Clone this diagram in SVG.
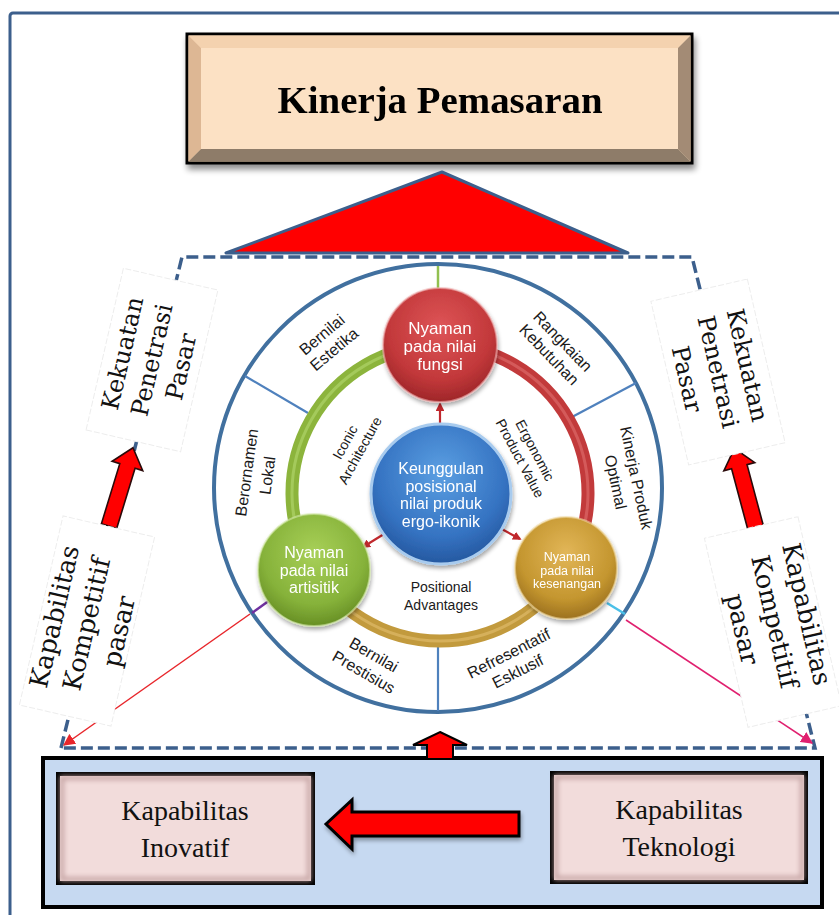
<svg xmlns="http://www.w3.org/2000/svg" width="839" height="915" viewBox="0 0 839 915">
  <style>
    .frame { fill: none; stroke: #3C5F8C; stroke-width: 3; }
    .dash { fill: none; stroke: #3C5F8C; stroke-width: 3.5; stroke-dasharray: 12 5; }
    .sidebox { fill: #FFFFFF; stroke: #EDEDED; stroke-width: 1; stroke-dasharray: 6 2; }
    .sidetxt { font-family: "DejaVu Serif", "Liberation Serif", serif; fill: #111111; text-anchor: middle; }
    .lbl { font-family: "Liberation Sans", Arial, sans-serif; font-size: 16px; fill: #1A1A1A; text-anchor: middle; }
    .lbl-in { font-family: "Liberation Sans", Arial, sans-serif; font-size: 14px; fill: #1A1A1A; text-anchor: middle; }
    .ntxt { font-family: "Liberation Sans", Arial, sans-serif; fill: #FFFFFF; text-anchor: middle; }
    .spoke { stroke: #4F81BD; stroke-width: 2.2; }
    .block { fill: #FF0000; stroke: #2A0A0A; stroke-width: 1.6; stroke-linejoin: miter; }
    .capbox { fill: #F2DCDB; stroke: #000000; stroke-width: 4; }
    .captxt { font-family: "Liberation Serif", "Times New Roman", serif; font-size: 28px; fill: #111111; text-anchor: middle; }
  </style>
  <defs>
    <filter id="shadow" x="-10%" y="-10%" width="125%" height="135%">
      <feGaussianBlur in="SourceAlpha" stdDeviation="3"/>
      <feOffset dx="2" dy="5" result="b"/>
      <feComponentTransfer><feFuncA type="linear" slope="0.45"/></feComponentTransfer>
      <feMerge><feMergeNode/><feMergeNode in="SourceGraphic"/></feMerge>
    </filter>
    <filter id="soft" x="-20%" y="-20%" width="140%" height="140%">
      <feGaussianBlur in="SourceAlpha" stdDeviation="2"/>
      <feOffset dx="1" dy="3"/>
      <feComponentTransfer><feFuncA type="linear" slope="0.35"/></feComponentTransfer>
      <feMerge><feMergeNode/><feMergeNode in="SourceGraphic"/></feMerge>
    </filter>
    <filter id="inner" x="-5%" y="-5%" width="110%" height="110%">
      <feGaussianBlur stdDeviation="2.5"/>
    </filter>
    <radialGradient id="gBlue" cx="50%" cy="35%" r="65%">
      <stop offset="0" stop-color="#5B9FE2"/>
      <stop offset="0.7" stop-color="#3573C2"/>
      <stop offset="1" stop-color="#2558A0"/>
    </radialGradient>
    <radialGradient id="gRed" cx="50%" cy="35%" r="65%">
      <stop offset="0" stop-color="#DE5557"/>
      <stop offset="0.7" stop-color="#C2383A"/>
      <stop offset="1" stop-color="#9E2629"/>
    </radialGradient>
    <radialGradient id="gGreen" cx="50%" cy="35%" r="65%">
      <stop offset="0" stop-color="#A8D058"/>
      <stop offset="0.7" stop-color="#86B23A"/>
      <stop offset="1" stop-color="#678F25"/>
    </radialGradient>
    <radialGradient id="gGold" cx="50%" cy="35%" r="65%">
      <stop offset="0" stop-color="#E2B658"/>
      <stop offset="0.7" stop-color="#C4962F"/>
      <stop offset="1" stop-color="#9C7120"/>
    </radialGradient>
    <marker id="mRed" viewBox="0 0 10 10" refX="9" refY="5" markerWidth="8" markerHeight="8" orient="auto">
      <path d="M0,0 L10,5 L0,10 Z" fill="#E8262B"/>
    </marker>
    <marker id="mPink" viewBox="0 0 10 10" refX="9" refY="5" markerWidth="8" markerHeight="8" orient="auto">
      <path d="M0,0 L10,5 L0,10 Z" fill="#E0206F"/>
    </marker>
    <marker id="mDark" viewBox="0 0 10 10" refX="8" refY="5" markerWidth="4" markerHeight="4" orient="auto">
      <path d="M0,0 L10,5 L0,10 Z" fill="#C0282D"/>
    </marker>
    <!-- block arrow pointing up, centred on its own origin -->
    <path id="upArrow" d="M0,-41 L16,-22 L8,-22 L8,41 L-8,41 L-8,-22 L-16,-22 Z"/>
  </defs>

  <rect x="0" y="0" width="839" height="915" fill="#FFFFFF"/>
  <rect class="frame" x="10" y="13" width="900" height="960" rx="3"/>

  <!-- top goal box -->
  <g id="kinerja-pemasaran" filter="url(#shadow)">
    <rect x="187" y="34" width="505" height="129" fill="#FCE0C1" stroke="#000000" stroke-width="3"/>
    <polygon points="188.5,35.5 690.5,35.5 678,48 201,48" fill="#F4D2AF"/>
    <polygon points="188.5,35.5 201,48 201,149 188.5,161.5" fill="#DDB794"/>
    <polygon points="690.5,35.5 690.5,161.5 678,149 678,48" fill="#A38B74"/>
    <polygon points="188.5,161.5 201,149 678,149 690.5,161.5" fill="#8E7C69"/>
    <rect x="201" y="48" width="477" height="101" fill="#FCE1C4"/>
    <text x="440" y="113" font-family="'Liberation Serif', 'Times New Roman', serif" font-weight="bold" font-size="37" text-anchor="middle" textLength="325" lengthAdjust="spacingAndGlyphs" fill="#000000">Kinerja Pemasaran</text>
  </g>

  <!-- outline of the model area and the arrows between parts -->
  <g id="connectors">
    <path class="dash" d="M61,748 L182,257 L692,257 L815,748 Z"/>
    <polygon points="442,172 226,253 628,253" fill="#FF0000" stroke="#3C5F8C" stroke-width="3" stroke-linejoin="round"/>
    <use href="#upArrow" class="block" transform="translate(121,487) rotate(17)"/>
    <use href="#upArrow" class="block" transform="translate(745,488) rotate(-15)"/>
    <line x1="250" y1="614" x2="64" y2="745" stroke="#E8262B" stroke-width="1.5" marker-end="url(#mRed)"/>
    <line x1="626" y1="620" x2="812" y2="743" stroke="#E0206F" stroke-width="1.5" marker-end="url(#mPink)"/>
  </g>

  <!-- side captions -->
  <g id="kekuatan-kiri" transform="translate(152,360) rotate(-77)">
    <rect class="sidebox" x="-83" y="-48.5" width="166" height="97"/>
    <text class="sidetxt" font-size="24" y="-22">Kekuatan</text>
    <text class="sidetxt" font-size="24" y="8">Penetrasi</text>
    <text class="sidetxt" font-size="24" y="38">Pasar</text>
  </g>
  <g id="kapabilitas-kiri" transform="translate(87,621) rotate(-77)">
    <rect class="sidebox" x="-97" y="-47" width="194" height="94"/>
    <text class="sidetxt" font-size="25.5" x="-3" y="-24">Kapabilitas</text>
    <text class="sidetxt" font-size="25.5" x="-3" y="9">Kompetitif</text>
    <text class="sidetxt" font-size="25.5" x="-3" y="42">pasar</text>
  </g>
  <g id="kekuatan-kanan" transform="translate(718,372) rotate(77)">
    <rect class="sidebox" x="-84" y="-49.5" width="168" height="99"/>
    <text class="sidetxt" font-size="24" y="-22">Kekuatan</text>
    <text class="sidetxt" font-size="24" y="8">Penetrasi</text>
    <text class="sidetxt" font-size="24" y="40">Pasar</text>
  </g>
  <g id="kapabilitas-kanan" transform="translate(773,622) rotate(77)">
    <rect class="sidebox" x="-97" y="-48" width="194" height="96"/>
    <text class="sidetxt" font-size="25.5" y="-26">Kapabilitas</text>
    <text class="sidetxt" font-size="25.5" y="7">Kompetitif</text>
    <text class="sidetxt" font-size="25.5" y="40">pasar</text>
  </g>

  <!-- wheel -->
  <g id="roda">
    <circle cx="438" cy="488" r="224" fill="#FFFFFF" stroke="#41709F" stroke-width="4"/>
    <line x1="438" y1="266" x2="438" y2="290" stroke="#92C050" stroke-width="2.5"/>
    <line class="spoke" x1="308" y1="413" x2="245" y2="376"/>
    <line class="spoke" x1="572" y1="417" x2="636" y2="383"/>
    <line class="spoke" x1="438" y1="647" x2="438" y2="711"/>
    <line x1="270" y1="600" x2="252" y2="613" stroke="#7030A0" stroke-width="2.5"/>
    <line x1="607" y1="603" x2="625" y2="614" stroke="#4BC0E8" stroke-width="2.5"/>

    <path d="M440,345 A148,148 0 0,0 313,569" fill="none" stroke="#8CB43C" stroke-width="13"/>
    <path d="M440,345 A148,148 0 0,1 567,569" fill="none" stroke="#C23A3B" stroke-width="13"/>
    <path d="M313,569 A148,148 0 0,0 567,569" fill="none" stroke="#C29A3D" stroke-width="13"/>
    <path d="M440,345 A148,148 0 0,0 313,569" fill="none" stroke="#B4D870" stroke-width="3" opacity="0.6"/>
    <path d="M440,345 A148,148 0 0,1 567,569" fill="none" stroke="#E07070" stroke-width="3" opacity="0.6"/>
    <path d="M313,569 A148,148 0 0,0 567,569" fill="none" stroke="#E2C070" stroke-width="3" opacity="0.6"/>

    <line x1="440" y1="424" x2="440" y2="404" stroke="#C0282D" stroke-width="2.2" marker-end="url(#mDark)"/>
    <line x1="384" y1="534" x2="363" y2="547" stroke="#C0282D" stroke-width="2.2" marker-end="url(#mDark)"/>
    <line x1="498" y1="527" x2="520" y2="539" stroke="#C0282D" stroke-width="2.2" marker-end="url(#mDark)"/>

    <g transform="translate(328,342) rotate(-40)"><text class="lbl" y="-4">Bernilai</text><text class="lbl" y="15">Estetika</text></g>
    <g transform="translate(556,348) rotate(46)"><text class="lbl" y="-4">Rangkaian</text><text class="lbl" y="15">Kebutuhan</text></g>
    <g transform="translate(626,480) rotate(78)"><text class="lbl" y="-5">Kinerja Produk</text><text class="lbl" y="16">Optimal</text></g>
    <g transform="translate(257,474) rotate(-82)"><text class="lbl" y="-5">Berornamen</text><text class="lbl" y="16">Lokal</text></g>
    <g transform="translate(369,663) rotate(30)"><text class="lbl" y="-4">Bernilai</text><text class="lbl" y="16">Prestisius</text></g>
    <g transform="translate(513,662) rotate(-27)"><text class="lbl" y="-4">Refresentatif</text><text class="lbl" y="16">Esklusif</text></g>
    <g transform="translate(352,446) rotate(-61)"><text class="lbl-in" y="-3">Iconic</text><text class="lbl-in" y="14">Architecture</text></g>
    <g transform="translate(528,454) rotate(62)"><text class="lbl-in" y="-3">Ergonomic</text><text class="lbl-in" y="14">Product Value</text></g>
    <text class="lbl-in" x="441" y="592">Positional</text>
    <text class="lbl-in" x="441" y="610">Advantages</text>
  </g>

  <g id="node-fungsi" filter="url(#soft)">
    <circle cx="440" cy="345" r="57" fill="url(#gRed)" stroke="#F0B0B0" stroke-width="2" stroke-opacity="0.6"/>
    <text class="ntxt" font-size="17" x="440" y="334">Nyaman</text>
    <text class="ntxt" font-size="17" x="440" y="352">pada nilai</text>
    <text class="ntxt" font-size="17" x="440" y="370">fungsi</text>
  </g>
  <g id="node-artisitik" filter="url(#soft)">
    <circle cx="314" cy="570" r="56" fill="url(#gGreen)" stroke="#D4EAA8" stroke-width="2" stroke-opacity="0.6"/>
    <text class="ntxt" font-size="16" x="314" y="558">Nyaman</text>
    <text class="ntxt" font-size="16" x="314" y="576">pada nilai</text>
    <text class="ntxt" font-size="16" x="314" y="593">artisitik</text>
  </g>
  <g id="node-kesenangan" filter="url(#soft)">
    <circle cx="566" cy="568" r="51" fill="url(#gGold)" stroke="#F0D8A0" stroke-width="2" stroke-opacity="0.6"/>
    <text class="ntxt" font-size="12.5" x="567" y="561">Nyaman</text>
    <text class="ntxt" font-size="12.5" x="567" y="575">pada nilai</text>
    <text class="ntxt" font-size="12.5" x="567" y="588">kesenangan</text>
  </g>
  <g id="node-keunggulan" filter="url(#soft)">
    <circle cx="441" cy="494" r="70" fill="url(#gBlue)" stroke="#A8CBEE" stroke-width="3"/>
    <text class="ntxt" font-size="16" x="441" y="474">Keunggulan</text>
    <text class="ntxt" font-size="16" x="441" y="492">posisional</text>
    <text class="ntxt" font-size="16" x="441" y="509">nilai produk</text>
    <text class="ntxt" font-size="16" x="441" y="527">ergo-ikonik</text>
  </g>

  <!-- bottom capability panel -->
  <g id="panel-kapabilitas">
    <rect x="43" y="758" width="779" height="149" fill="#C6D9F1" stroke="#000000" stroke-width="4"/>
  </g>
  <g id="kapabilitas-inovatif">
    <rect class="capbox" x="58" y="774" width="255" height="109"/>
    <rect x="62" y="778" width="247" height="101" fill="none" stroke="#C4A3A2" stroke-width="4" filter="url(#inner)"/>
    <text class="captxt" x="185" y="820">Kapabilitas</text>
    <text class="captxt" x="185" y="857">Inovatif</text>
  </g>
  <g id="kapabilitas-teknologi">
    <rect class="capbox" x="552" y="773" width="254" height="109"/>
    <rect x="556" y="777" width="246" height="101" fill="none" stroke="#C4A3A2" stroke-width="4" filter="url(#inner)"/>
    <text class="captxt" x="679" y="819">Kapabilitas</text>
    <text class="captxt" x="679" y="856">Teknologi</text>
  </g>
  <!-- block arrows on the panel -->
  <g id="panel-arrows">
    <path d="M326,824 L352,800 L352,812 L519,812 L519,836 L352,836 L352,849 Z" fill="#FF0000" stroke="#000000" stroke-width="3" stroke-linejoin="miter" filter="url(#soft)"/>
    <path d="M440,732 L467,745 L453,745 L453,759 L427,759 L427,745 L413,745 Z" fill="#FF0000" stroke="#000000" stroke-width="2"/>
  </g>
</svg>
